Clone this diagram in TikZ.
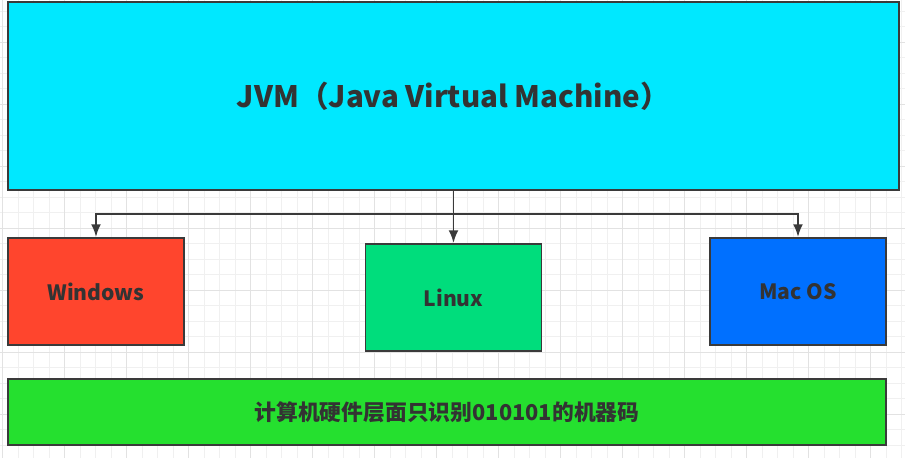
\documentclass[tikz,border=0pt]{standalone}
\usepackage{fontspec}
\setmainfont{Noto Sans CJK SC}
\usepackage{tikz}
\usetikzlibrary{positioning, arrows.meta, calc}

\definecolor{jvmcyan}{HTML}{00E8FF}
\definecolor{winred}{HTML}{FF452D}
\definecolor{linuxgreen}{HTML}{00DD7C}
\definecolor{macblue}{HTML}{0070FF}
\definecolor{hwgreen}{HTML}{25E02F}
\definecolor{linegray}{HTML}{3A3A3A}
\definecolor{textgray}{HTML}{333333}
\definecolor{gridminor}{HTML}{F0F0F0}
\definecolor{gridmajor}{HTML}{E2E2E2}

\begin{document}
\begin{tikzpicture}[x=0.025cm, y=-0.025cm,
        box/.style={draw=linegray, line width=1.3pt, rectangle, align=center, text=textgray},
        osbox/.style={box, minimum width=4.4cm, minimum height=2.68cm, font=\bfseries\fontsize{15}{18}\selectfont},
        node distance=1cm, >={Latex[length=9pt, width=7pt]}]

        \useasboundingbox (0,0) rectangle (905,458);

        % Grade de fundo
        \foreach \gx in {0,...,58}
            \draw[gridminor, line width=0.6pt] ({2.7+15.5*\gx},0) -- ({2.7+15.5*\gx},458);
        \foreach \gy in {0,...,29}
            \draw[gridminor, line width=0.6pt] (0,{11+15.5*\gy}) -- (905,{11+15.5*\gy});
        \foreach \gx in {0,...,14}
            \draw[gridmajor, line width=0.6pt] ({2.7+62*\gx},0) -- ({2.7+62*\gx},458);
        \foreach \gy in {0,...,6}
            \draw[gridmajor, line width=0.6pt] (0,{42+62*\gy}) -- (905,{42+62*\gy});

        % Blocos
        \node (jvm) [box, fill=jvmcyan, minimum width=22.28cm, minimum height=4.7cm,
            font=\bfseries\fontsize{21}{25}\selectfont] at (453.5,96) {JVM（Java Virtual Machine）};
        \node (win) [osbox, fill=winred] at (96,291.5) {Windows};
        \node (linux) [osbox, fill=linuxgreen] at (453.5,297.5) {Linux};
        \node (mac) [osbox, fill=macblue] at (798,291.5) {Mac OS};
        \node (hw) [box, fill=hwgreen, minimum width=21.95cm, minimum height=1.65cm,
            font=\bfseries\fontsize{15.5}{18}\selectfont] at (447,412) {计算机硬件层面只识别010101的机器码};

        % Ligações
        \node (split) [coordinate, below=0.575cm of jvm] {};
        \draw[->, draw=linegray, line width=1.3pt] (jvm) -- (linux);
        \draw[->, draw=linegray, line width=1.3pt] (split) -| (win);
        \draw[->, draw=linegray, line width=1.3pt] (split) -| (mac);

\end{tikzpicture}
\end{document}
